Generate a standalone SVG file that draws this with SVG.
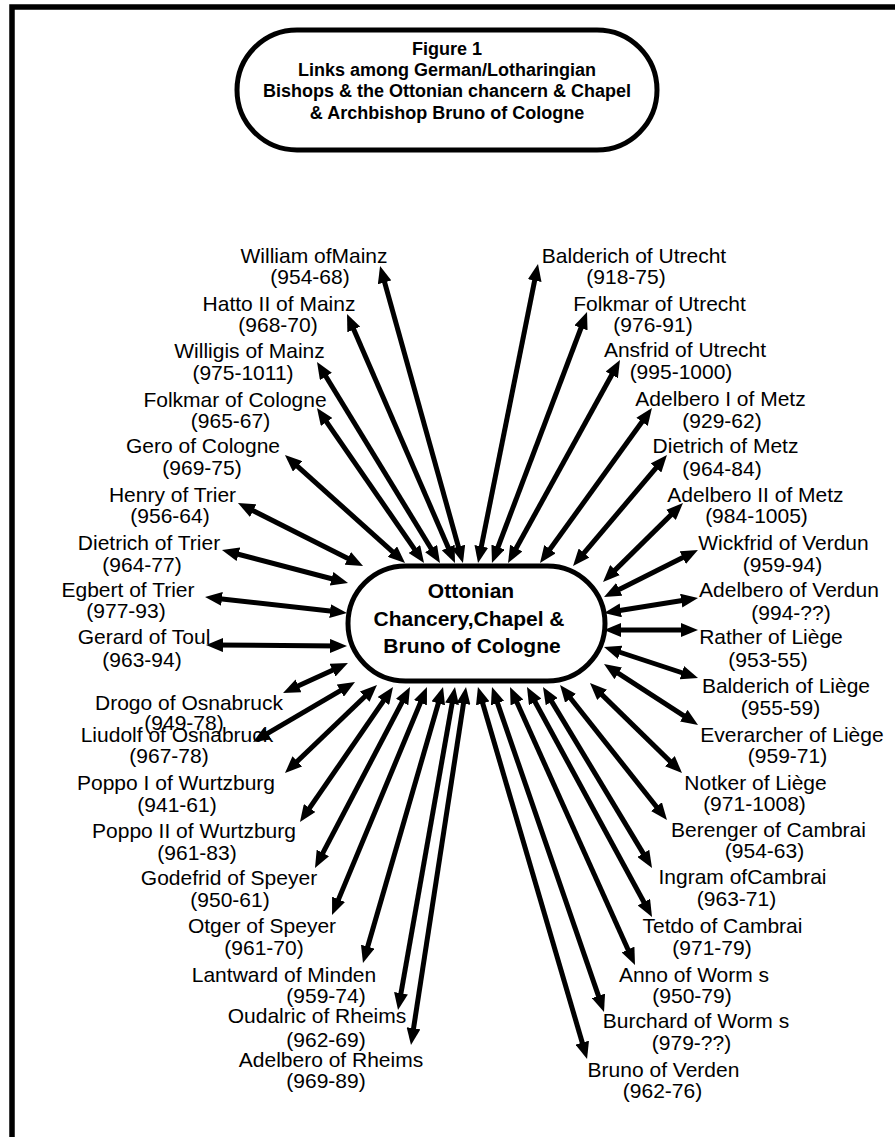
<svg xmlns="http://www.w3.org/2000/svg" width="895" height="1137" viewBox="0 0 895 1137">
<defs>
<style>
.t{font-family:"Liberation Sans",Arial,sans-serif;font-size:21px;fill:#000;text-anchor:middle}
.b{font-weight:bold}
.ttl{font-size:18px}
.box{fill:#fff;stroke:#000;stroke-width:5}
#connectors line{stroke:#000;stroke-width:5;marker-start:url(#ah);marker-end:url(#ah)}
</style>
<marker id="ah" viewBox="0 0 17 14" refX="9" refY="7" markerWidth="17" markerHeight="14" markerUnits="userSpaceOnUse" orient="auto-start-reverse"><path d="M0,0 L17,7 L0,14 z" fill="#000"/></marker>
</defs>
<rect x="0" y="0" width="895" height="1137" fill="#fff"/>
<rect id="frame" x="12" y="7" width="910" height="1160" fill="none" stroke="#000" stroke-width="5.5"/>
<g id="title">
<rect class="box" x="237" y="30" width="420" height="120" rx="60"/>
<text class="t b ttl" x="447" y="55">Figure 1</text>
<text class="t b ttl" x="447" y="76">Links among German/Lotharingian</text>
<text class="t b ttl" x="447" y="97">Bishops &amp; the Ottonian chancern &amp; Chapel</text>
<text class="t b ttl" x="447" y="119">&amp; Archbishop Bruno of Cologne</text>
</g>
<g id="center">
<rect class="box" x="348" y="566" width="257" height="115" rx="57.5"/>
<text class="t b" x="471" y="598">Ottonian</text>
<text class="t b" x="469" y="626">Chancery,Chapel &amp;</text>
<text class="t b" x="472" y="653">Bruno of Cologne</text>
</g>
<g id="william"><text class="t" x="314" y="262.5">William ofMainz</text><text class="t" x="310" y="284">(954-68)</text></g>
<g id="hatto"><text class="t" x="279" y="310.5">Hatto II of Mainz</text><text class="t" x="278" y="332">(968-70)</text></g>
<g id="willigis"><text class="t" x="249.5" y="358">Willigis of Mainz</text><text class="t" x="243" y="380">(975-1011)</text></g>
<g id="folkmar-cologne"><text class="t" x="235" y="406.5">Folkmar of Cologne</text><text class="t" x="230.5" y="428">(965-67)</text></g>
<g id="gero"><text class="t" x="203" y="452.5">Gero of Cologne</text><text class="t" x="202" y="475">(969-75)</text></g>
<g id="henry"><text class="t" x="172.5" y="501.5">Henry of Trier</text><text class="t" x="170" y="523">(956-64)</text></g>
<g id="dietrich-trier"><text class="t" x="149" y="550">Dietrich of Trier</text><text class="t" x="142" y="571.5">(964-77)</text></g>
<g id="egbert"><text class="t" x="128" y="596.5">Egbert of Trier</text><text class="t" x="126" y="618">(977-93)</text></g>
<g id="gerard"><text class="t" x="144" y="644">Gerard of Toul</text><text class="t" x="142" y="666.5">(963-94)</text></g>
<g id="drogo"><text class="t" x="189" y="710">Drogo of Osnabruck</text><text class="t" x="184" y="730">(949-78)</text></g>
<g id="liudolf"><text class="t" x="177" y="741.5">Liudolf of Osnabruck</text><text class="t" x="169" y="763">(967-78)</text></g>
<g id="poppo1"><text class="t" x="176" y="790">Poppo I of Wurtzburg</text><text class="t" x="177" y="811.5">(941-61)</text></g>
<g id="poppo2"><text class="t" x="194" y="838">Poppo II of Wurtzburg</text><text class="t" x="197" y="860">(961-83)</text></g>
<g id="godefrid"><text class="t" x="229" y="885">Godefrid of Speyer</text><text class="t" x="230" y="906.5">(950-61)</text></g>
<g id="otger"><text class="t" x="262" y="933">Otger of Speyer</text><text class="t" x="264" y="955">(961-70)</text></g>
<g id="lantward"><text class="t" x="284" y="981.5">Lantward of Minden</text><text class="t" x="326" y="1003">(959-74)</text></g>
<g id="oudalric"><text class="t" x="317" y="1023">Oudalric of Rheims</text><text class="t" x="326" y="1046.5">(962-69)</text></g>
<g id="adelbero-rheims"><text class="t" x="331" y="1066.5">Adelbero of Rheims</text><text class="t" x="326" y="1088">(969-89)</text></g>
<g id="balderich-utrecht"><text class="t" x="634" y="262.5">Balderich of Utrecht</text><text class="t" x="626" y="283.5">(918-75)</text></g>
<g id="folkmar-utrecht"><text class="t" x="659.5" y="310.5">Folkmar of Utrecht</text><text class="t" x="653" y="331.5">(976-91)</text></g>
<g id="ansfrid"><text class="t" x="685" y="357">Ansfrid of Utrecht</text><text class="t" x="681" y="379">(995-1000)</text></g>
<g id="adelbero1-metz"><text class="t" x="720.5" y="406">Adelbero I of Metz</text><text class="t" x="722" y="428">(929-62)</text></g>
<g id="dietrich-metz"><text class="t" x="725.5" y="453">Dietrich of Metz</text><text class="t" x="722" y="476">(964-84)</text></g>
<g id="adelbero2-metz"><text class="t" x="755.5" y="501.5">Adelbero II of Metz</text><text class="t" x="756.5" y="523">(984-1005)</text></g>
<g id="wickfrid"><text class="t" x="783.5" y="550">Wickfrid of Verdun</text><text class="t" x="782.5" y="571.5">(959-94)</text></g>
<g id="adelbero-verdun"><text class="t" x="789" y="597">Adelbero of Verdun</text><text class="t" x="791" y="620">(994-??)</text></g>
<g id="rather"><text class="t" x="771" y="644">Rather of Liège</text><text class="t" x="768" y="666.5">(953-55)</text></g>
<g id="balderich-liege"><text class="t" x="786" y="693">Balderich of Liège</text><text class="t" x="780.5" y="715">(955-59)</text></g>
<g id="everarcher"><text class="t" x="792" y="741.5">Everarcher of Liège</text><text class="t" x="787.5" y="763">(959-71)</text></g>
<g id="notker"><text class="t" x="755.5" y="790">Notker of Liège</text><text class="t" x="754.5" y="810.5">(971-1008)</text></g>
<g id="berenger"><text class="t" x="768.5" y="836.5">Berenger of Cambrai</text><text class="t" x="764.5" y="858">(954-63)</text></g>
<g id="ingram"><text class="t" x="742.5" y="884">Ingram ofCambrai</text><text class="t" x="736.5" y="906">(963-71)</text></g>
<g id="tetdo"><text class="t" x="722.5" y="933">Tetdo of Cambrai</text><text class="t" x="712" y="955">(971-79)</text></g>
<g id="anno"><text class="t" x="694" y="981.5">Anno of Worm s</text><text class="t" x="692" y="1003">(950-79)</text></g>
<g id="burchard"><text class="t" x="696" y="1028">Burchard of Worm s</text><text class="t" x="691.5" y="1050">(979-??)</text></g>
<g id="bruno-verden"><text class="t" x="663.5" y="1076.5">Bruno of Verden</text><text class="t" x="662.5" y="1098">(962-76)</text></g>
<g id="connectors">
<line x1="382.2" y1="273.7" x2="460.8" y2="555.3"/>
<line x1="350.2" y1="321.3" x2="451.8" y2="555.7"/>
<line x1="321.2" y1="368.8" x2="435.8" y2="556.2"/>
<line x1="321.5" y1="414.6" x2="419.5" y2="556.4"/>
<line x1="290.9" y1="460.4" x2="399.1" y2="557.6"/>
<line x1="245.1" y1="506.6" x2="355.9" y2="562.4"/>
<line x1="229.7" y1="552" x2="340.3" y2="581"/>
<line x1="213" y1="597.9" x2="339" y2="612.1"/>
<line x1="214" y1="645" x2="339" y2="646"/>
<line x1="290.3" y1="689.6" x2="340.7" y2="666.4"/>
<line x1="259.9" y1="737.9" x2="348.1" y2="686.1"/>
<line x1="290.8" y1="767.5" x2="371.2" y2="690.5"/>
<line x1="304.5" y1="815.4" x2="388.5" y2="693.6"/>
<line x1="318.7" y1="860.9" x2="406.3" y2="694.1"/>
<line x1="335.1" y1="907.6" x2="423.9" y2="694.4"/>
<line x1="365.2" y1="955.3" x2="440.8" y2="694.7"/>
<line x1="399.4" y1="1002.1" x2="453.6" y2="694.9"/>
<line x1="412.2" y1="1037.1" x2="464.8" y2="694.9"/>
<line x1="584.8" y1="1051.3" x2="480.2" y2="694.7"/>
<line x1="601.4" y1="1004.4" x2="494.6" y2="694.6"/>
<line x1="631.7" y1="957.7" x2="513.3" y2="694.3"/>
<line x1="648.2" y1="910" x2="530.8" y2="694"/>
<line x1="647.9" y1="861.1" x2="547.1" y2="693.9"/>
<line x1="662" y1="813.7" x2="565" y2="691.3"/>
<line x1="676.3" y1="767.4" x2="595.7" y2="688.6"/>
<line x1="691.3" y1="720.6" x2="610.7" y2="668.4"/>
<line x1="690.4" y1="675.5" x2="611.6" y2="649.5"/>
<line x1="690" y1="630" x2="612" y2="630"/>
<line x1="690.1" y1="599.3" x2="611.9" y2="611.7"/>
<line x1="690.8" y1="553.6" x2="611.2" y2="593.4"/>
<line x1="677.3" y1="508.6" x2="608.7" y2="576.4"/>
<line x1="661.8" y1="461.1" x2="578.2" y2="559.9"/>
<line x1="647.3" y1="414.5" x2="544.7" y2="556.5"/>
<line x1="616.1" y1="367" x2="511.9" y2="556"/>
<line x1="584.2" y1="319.5" x2="494.8" y2="555.5"/>
<line x1="536.4" y1="271.8" x2="479.6" y2="555.2"/>
</g>
</svg>
